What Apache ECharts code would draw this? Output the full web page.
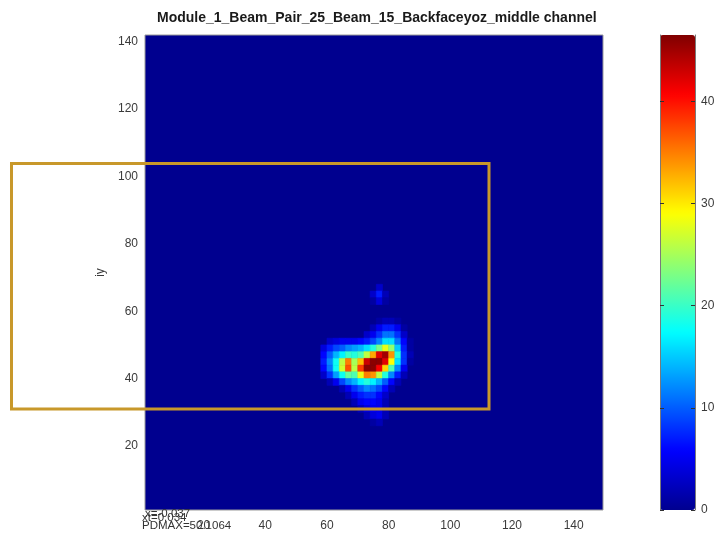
<!DOCTYPE html>
<html>
<head>
<meta charset="utf-8">
<script src="https://cdn.jsdelivr.net/npm/echarts@6/dist/echarts.min.js"></script>
<style>
  html, body { margin: 0; padding: 0; background: #ffffff; }
  #main { width: 727px; height: 537px; }
</style>
</head>
<body>
<div id="main"></div>
<script>
// Beam intensity on the back face (yoz plane), middle channel
const chartTitle = 'Module_1_Beam_Pair_25_Beam_15_Backfaceyoz_middle channel';

// cell centres (ix columns, iy rows from top to bottom), 2 units per cell
const ixCenters = [59, 61, 63, 65, 67, 69, 71, 73, 75, 77, 79, 81, 83, 85, 87];
const iyCenters = [67, 65, 63, 61, 59, 57, 55, 53, 51, 49, 47, 45, 43, 41, 39, 37, 35, 33, 31, 29, 27];

// intensity per cell, one row per iyCenters entry
const intensity = [
  [0, 0, 0, 0, 0, 0, 0, 0, 0, 3, 0, 0, 0, 0, 0],
  [0, 0, 0, 0, 0, 0, 0, 0, 3, 7, 2, 0, 0, 0, 0],
  [0, 0, 0, 0, 0, 0, 0, 0, 1, 4, 1, 0, 0, 0, 0],
  [0, 0, 0, 0, 0, 0, 0, 0, 0, 0, 0, 0, 0, 0, 0],
  [0, 0, 0, 0, 0, 0, 0, 0, 0, 0, 0, 0, 0, 0, 0],
  [0, 0, 0, 0, 0, 0, 0, 0, 0, 1, 2, 2, 1, 0, 0],
  [0, 0, 0, 0, 0, 0, 0, 0, 2, 5, 7, 7, 5, 1, 0],
  [0, 0, 0, 0, 0, 0, 0, 3, 5, 8, 11, 11, 8, 3, 0],
  [0, 3, 4, 5, 5, 5, 6, 7, 9, 12, 16, 16, 11, 6, 1],
  [4, 7, 9, 10, 12, 13, 14, 16, 19, 23, 28, 24, 15, 7, 1],
  [6, 10, 14, 17, 20, 19, 21, 26, 33, 42, 45, 34, 19, 8, 2],
  [7, 12, 18, 26, 35, 25, 32, 43, 46, 46, 42, 29, 16, 8, 1],
  [6, 11, 18, 27, 37, 26, 38, 46, 46, 41, 31, 21, 12, 5, 0],
  [3, 8, 13, 18, 22, 21, 28, 35, 34, 26, 19, 12, 7, 2, 0],
  [0, 2, 5, 9, 12, 14, 17, 19, 17, 14, 10, 6, 2, 0, 0],
  [0, 0, 0, 2, 5, 8, 10, 12, 11, 9, 6, 2, 0, 0, 0],
  [0, 0, 0, 0, 2, 5, 7, 8, 8, 6, 3, 0, 0, 0, 0],
  [0, 0, 0, 0, 0, 2, 5, 6, 6, 5, 2, 0, 0, 0, 0],
  [0, 0, 0, 0, 0, 0, 2, 4, 5, 5, 2, 0, 0, 0, 0],
  [0, 0, 0, 0, 0, 0, 0, 2, 4, 5, 2, 0, 0, 0, 0],
  [0, 0, 0, 0, 0, 0, 0, 0, 1, 2, 0, 0, 0, 0, 0]
];

const axisTicks = [20, 40, 60, 80, 100, 120, 140];
const colorbarTicks = [0, 10, 20, 30, 40];
const colorMin = 0;
const colorMax = 46.5;
const notes = ['x=-0.037', 'xt=0.034', 'PDMAX=50.1064'];

// jet colour map, evenly spaced stops
const jetColors = ['#00008F', '#0000FF', '#0080FF', '#00FFFF', '#80FF80',
                   '#FFFF00', '#FF8000', '#FF0000', '#800000'];

const cellHalf = 1;
const cells = [];
iyCenters.forEach(function (iy, r) {
  ixCenters.forEach(function (ix, c) {
    const v = intensity[r][c];
    if (v > 0) cells.push([ix, iy, v]);
  });
});

const font = 'Liberation Sans, Arial, Helvetica, sans-serif';
const labelColor = '#3a3a3a';

const colorbarAxis = function (side, showLabels) {
  return {
    gridIndex: 1, type: 'value', min: colorMin, max: colorMax, position: side, z: 10,
    axisLine: { show: true, onZero: false, lineStyle: { color: '#7a7a7a', width: 1 } },
    axisTick: { show: true, inside: true, length: 4, customValues: colorbarTicks, lineStyle: { color: '#333' } },
    splitLine: { show: false },
    axisLabel: showLabels ? {
      customValues: colorbarTicks, margin: 6,
      fontFamily: font, fontSize: 12, color: labelColor
    } : { show: false }
  };
};

const chart = echarts.init(document.getElementById('main'));
chart.setOption({
  backgroundColor: '#ffffff',
  animation: false,
  title: {
    text: chartTitle,
    left: 152,
    top: 6,
    textStyle: { fontFamily: font, fontSize: 14, fontWeight: 'bold', color: '#1a1a1a' }
  },
  grid: [
    {
      left: 145, top: 35, width: 458, height: 475,
      show: true, backgroundColor: '#00008F', borderColor: '#9a9a9a', borderWidth: 1
    },
    {
      left: 660, top: 35, width: 35, height: 475,
      show: false
    }
  ],
  xAxis: [
    {
      gridIndex: 0, type: 'value', min: 1, max: 149.5,
      axisLine: { show: false },
      axisTick: { show: false },
      splitLine: { show: false },
      axisLabel: {
        customValues: axisTicks, margin: 10,
        fontFamily: font, fontSize: 12, color: labelColor
      }
    },
    { gridIndex: 1, type: 'value', min: 0, max: 1, show: false }
  ],
  yAxis: [
    {
      gridIndex: 0, type: 'value', min: 1, max: 142,
      name: 'iy', nameLocation: 'middle', nameGap: 35, nameRotate: 90,
      nameTextStyle: { fontFamily: font, fontSize: 12, color: labelColor },
      axisLine: { show: false },
      axisTick: { show: false },
      splitLine: { show: false },
      axisLabel: {
        customValues: axisTicks, margin: 7,
        fontFamily: font, fontSize: 12, color: labelColor
      }
    },
    colorbarAxis('right', true),
    colorbarAxis('left', false)
  ],
  visualMap: {
    type: 'continuous',
    min: colorMin, max: colorMax,
    dimension: 2,
    seriesIndex: 0,
    calculable: false,
    hoverLink: false,
    z: 1,
    left: 645, top: 20,
    itemWidth: 35, itemHeight: 475,
    inRange: { color: jetColors }
  },
  series: [
    {
      type: 'custom',
      xAxisIndex: 0, yAxisIndex: 0,
      clip: true,
      data: cells,
      encode: { x: 0, y: 1 },
      renderItem: function (params, api) {
        const ix = api.value(0);
        const iy = api.value(1);
        const a = api.coord([ix - cellHalf, iy + cellHalf]);
        const b = api.coord([ix + cellHalf, iy - cellHalf]);
        const color = api.visual('color');
        return {
          type: 'rect',
          shape: { x: a[0], y: a[1], width: b[0] - a[0], height: b[1] - a[1] },
          style: { fill: color, stroke: color, lineWidth: 0.6 }
        };
      }
    }
  ],
  graphic: [
    {
      type: 'rect', z: 100, silent: true,
      shape: { x: 11.5, y: 163.5, width: 477.5, height: 245.5 },
      style: { fill: null, stroke: '#c8982a', lineWidth: 3 }
    },
    {
      type: 'text', z: 100, left: 145, top: 508,
      style: { text: notes[0], font: '11.5px ' + font, fill: '#333' }
    },
    {
      type: 'text', z: 100, left: 142, top: 512,
      style: { text: notes[1], font: '11.5px ' + font, fill: '#333' }
    },
    {
      type: 'text', z: 100, left: 142, top: 520,
      style: { text: notes[2], font: '11.5px ' + font, fill: '#333' }
    }
  ]
});
</script>
</body>
</html>
